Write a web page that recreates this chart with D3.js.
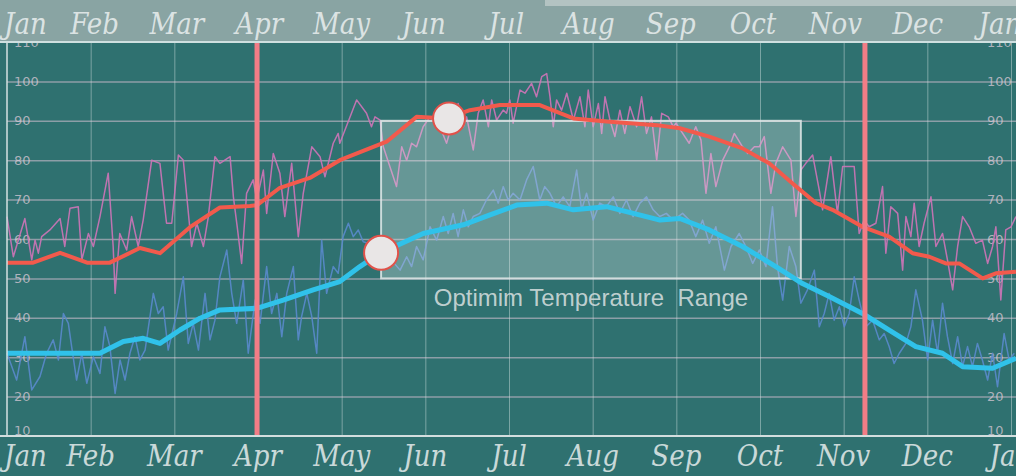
<!DOCTYPE html>
<html>
<head>
<meta charset="utf-8">
<script src="https://cdn.jsdelivr.net/npm/d3@7"></script>
<style>
  html, body { margin: 0; padding: 0; background: #2e6f6e; }
  svg { display: block; }
</style>
</head>
<body>
<svg id="chartSVG" width="1016" height="476"></svg>
<script>
// month labels (top and bottom), value gridlines
var monthNames = ["Jan","Feb","Mar","Apr","May","Jun","Jul","Aug","Sep","Oct","Nov","Dec","Jan"];
var valueTicks = [10,20,30,40,50,60,70,80,90,100,110];

// daily highs (thin pink line)
var dailyHighDay = [0,2.3,6.5,9,10.2,11.4,12.6,15.6,19.3,21,22.9,25.9,27.2,29.6,31.4,33.8,36.8,38.6,39.3,41,43.5,45.3,47.7,49.5,52.6,55.6,58,59.9,62.3,64.1,67.1,69,71.4,73.2,75.6,77.4,81.1,82.3,83.7,85.3,87.1,89.5,90.8,93.2,94.4,96.8,99.2,101,103.5,105.9,107.7,110.8,113.8,115.6,118.6,120.4,
  121,127.1,130.7,132.5,133.8,135.6,136.8,141.6,143.5,145.3,147.1,148.9,151.3,153.8,157.4,159.8,164,165.9,167.1,169.5,171.3,173.1,175,176.2,178,180.4,181.6,182.8,184,186.5,188.3,190.7,192.5,194.4,196.2,197.4,198.6,199.8,201.6,203.5,205.9,208.3,210.1,211.3,213.1,215,216.2,217.4,219.2,221,222.8,224.6,226.5,228.9,230.7,232.5,234.3,236.2,238,240.4,242.2,
  243.2,248,250.4,252.3,254.1,255.9,257.7,260.2,262.6,264.4,267.4,269.3,271.7,273.5,275.3,277.7,279.5,282,285,286.8,288.6,290.4,292.9,295.3,296.5,299.5,301.9,303.8,308,309.8,311.6,313.4,315.9,318.3,319.5,321.3,323.8,325.6,326.8,328.6,329.8,331.6,333.4,335.9,337.7,340.1,341.9,343.8,345.6,347.4,349.8,352.2,354.6,356.5,358.3,359.5,361.3,363.1,365,366.8];
var dailyHigh = [65.7,55.5,65.2,54.7,59.7,56.4,60.6,62.3,65.2,58.1,67.8,68.2,54.7,61.4,58.1,65.7,76.7,58.1,46.2,61.4,57.2,65.7,58.1,64.8,80,79.2,64,64,81.3,80,58.1,64,58.1,65.7,80.9,79.2,80.9,70.7,63.1,53.8,71.6,75,69.9,77.5,66.5,81.7,76.7,65.7,79.2,60.6,71.6,83.4,80.9,75.8,84.3,86.8,
  84.3,95.3,91.9,88.5,91,90.2,83.4,73.3,83.4,80,84.3,83.4,88.5,91,88.5,84.3,94.4,88.5,91,82.6,91.9,95.3,88.5,95.3,90.2,92.7,91.9,95.3,89.4,97.8,97,99.5,96.1,101.2,102,96.1,88.5,95.3,92.7,97,90.2,96.1,88.5,97.8,88.5,94.4,86.8,96.1,90.2,86,92.7,86.8,93.6,88.5,96.1,86.8,91,80,91.9,91,88.5,
  89.4,84.3,88.5,85.1,71.6,81.7,73.3,80,83.4,86.8,83.4,81.7,83.4,83.4,86,71.6,79.2,83.4,80,65.7,77.5,79.2,81.3,72.4,67.4,80.9,66.5,78.4,78.4,61.4,64.8,63.1,64,73.3,56.4,68.2,66.5,52.1,65.7,60.6,69.1,58.1,64,70.7,58.1,61.4,54.7,47.1,58.1,65.7,63.1,58.9,59.7,53.8,58.1,63.1,44.5,62.3,63.1,65.7];

// daily lows (thin blue line)
var dailyLowDay = [0,3.5,6.5,9,12,14.4,16.8,18.7,20.5,22.3,23.5,25.3,27.2,29,31.4,33.8,35.6,37.4,39.3,41.1,42.9,44.7,46.5,48.3,50.2,53.2,55,56.8,58.6,61.7,64.1,65.9,67.7,69.6,72,73.8,75.6,77.4,79.9,81.7,83.5,85.9,87.7,90.2,92,94.4,96.2,98.1,99.9,101.7,104.1,105.9,107.1,109,110.8,112.6,114.4,116.2,118.6,120.4,
  122.2,124.1,125.9,127.7,129.5,135.6,142.9,145.3,147.1,148.9,151.3,153.8,156.2,158.6,160.4,162.2,164,165.9,167.7,169.5,171.9,174.3,176.8,178.6,180.4,182.2,184,186.5,188.9,191.3,193.7,195.5,197.4,199.8,202.2,204.6,207.1,208.9,210.7,213.1,215.5,217.9,220.4,222.8,225.2,227.6,230.1,232.5,234.9,237.3,239.7,242.2,
  245.6,248,250.4,252.9,255.3,257.7,260.8,263.2,266.2,268.6,271.1,273.5,275.9,278.3,280.1,282,284.4,286.8,288.6,291,293.5,295.3,297.1,298.9,300.7,302.6,304.4,306.2,308,309.8,312.2,314.7,317.1,318.9,320.7,322.5,324.4,326.8,328.6,330.4,332.8,334.7,336.5,338.3,340.1,341.9,343.8,345.6,347.4,349.2,351,352.8,354.6,356.5,358.3,360.1,362.5,364.3,366.2];
var dailyLow = [31,24.2,35.2,21.7,25.1,31,34.4,29.3,41.1,38.6,32.7,24.2,31,23.4,30.1,25.9,37.7,32.7,20.8,29.3,24.2,31,35.2,29.3,31.8,46.2,41.1,42.8,31.8,41.1,50.4,33.5,38.6,31.8,46.2,34.4,39.4,50.4,57.2,46.2,38.6,49.6,31,44.5,38.6,53,41.1,46.2,35.2,46.2,53,34.4,40.3,46.2,40.3,31,59.7,46.2,53,51.3,
  60.6,64,60.6,62.3,59.3,58.1,52.1,55.5,53,58.1,54.7,63.1,59.7,65.7,61.4,66.5,60.6,67.4,63.1,65.7,66.5,69.9,72.4,69.1,73.3,69.9,71.6,69.9,75,78.4,69.9,73.3,71.6,68.2,70.7,68.2,77.5,67.4,71.6,64.8,69.1,68.2,70.7,66.5,69.9,65.7,69.1,70.7,67.4,65.7,66.5,64.8,
  66.5,64.8,60.6,64.8,58.9,63.1,52.1,58.1,61.4,58.1,53.8,57.2,53,68.2,53,44.5,58.1,53,43.7,47.1,52.1,37.7,41.1,46.2,39.4,42.8,37.7,41.1,50.4,44.5,37.7,39.4,34.4,36,32.7,28.4,31,33.5,37.7,47.1,39.4,29.3,39.4,31,43.7,35.2,28.4,35.2,27.6,32.7,27.6,33.5,29.3,24.2,31,22.5,36,29.3,31];

// average high (thick red) and average low (thick cyan)
var avgHighDay = [0,9.5,19.3,29.1,37.4,48.3,55.6,66.5,77.4,88.3,90.9,99.2,110.1,121,138,148.9,159.8,168.3,179.2,193.7,205.9,218,236.2,244.6,255.3,267.4,277.1,285.6,294.1,300.1,311,320.7,329.2,335.3,341.3,346.2,354.7,359.5,366.8];
var avgHigh = [54,54,56.5,54,54,57.7,56.4,63,68,68.4,68.6,73,75.5,80,84.7,91,90.6,92.7,94,94,90.6,89.8,88.9,88.1,86,83,79.2,74.1,69.1,67.4,63.1,60.6,56.4,55.5,53.8,53.8,50,51.3,51.7];
var avgLowDay = [0,33.8,42.3,49.5,55.6,62.9,70.2,77.4,90.8,100.4,111.3,121,128.3,135.6,151.3,165.9,175.6,185.3,196.2,205.9,218,227.7,237.4,244.6,255.3,267.4,279.5,289.2,298.9,311,320.7,330.4,340.1,347.4,358.3,366.8];
var avgLow = [31,31,34,34.8,33.5,36.9,39.9,42,42.4,44.5,47.1,49.2,53,56.4,61.4,63.6,66.1,68.6,69.1,67.4,68.2,66.5,64.8,65.2,62.3,58.1,53,48.7,45.4,41.1,36.9,32.7,31,27.6,27.2,29.7];

// optimum band, season markers, highlighted points
var optimumDays = [136, 288.6];
var optimumValues = [50, 90];
var seasonDays = [90.9, 311.9];
var markerDays = [160.7, 136];
var markerValues = [90.6, 56.5];
var markerSeries = ["high", "low"];
var rangeLabel = "Optimim Temperature  Range";

var svg = d3.select("#chartSVG"),
    W = +svg.attr("width"),
    H = +svg.attr("height"),
    plot = {left: 7, right: 1011, top: 42, bottom: 436};

var x = d3.scaleLinear().domain([0, 365]).range([plot.left, plot.right]),
    y = d3.scaleLinear().domain([10, 110]).range([plot.bottom, plot.top]);

var monthTicks = d3.range(13).map(function(i) { return i * 365 / 12; });

// background
svg.append("rect").attr("width", W).attr("height", H).attr("fill", "#2f7170");

svg.append("defs").append("clipPath").attr("id", "plotClip")
  .append("rect")
    .attr("x", 0).attr("y", plot.top)
    .attr("width", W).attr("height", plot.bottom - plot.top);

var g = svg.append("g").attr("clip-path", "url(#plotClip)");

// horizontal grid
g.append("g")
    .attr("class", "grid grid--y")
    .attr("transform", "translate(" + plot.left + ",0)")
    .call(d3.axisLeft(y).tickValues(valueTicks.slice(1, -1)).tickSize(-(W - plot.left)).tickFormat(""))
    .call(function(a) { a.select(".domain").remove(); })
    .selectAll("line")
      .attr("stroke", "#cdbccb")
      .attr("stroke-opacity", 0.6)
      .attr("stroke-width", 1.5);

// vertical month grid
g.append("g")
    .attr("class", "grid grid--x")
    .attr("transform", "translate(0," + plot.bottom + ")")
    .call(d3.axisBottom(x).tickValues(monthTicks.slice(1)).tickSize(-(plot.bottom - plot.top)).tickFormat(""))
    .call(function(a) { a.select(".domain").remove(); })
    .selectAll("line")
      .attr("stroke", "#d8e4e4")
      .attr("stroke-opacity", 0.45)
      .attr("stroke-width", 1);

// value labels, left and right (the 110 / 10 rows are cut by the frame, as in the print)
[14, 987].forEach(function(lx) {
  g.append("g").selectAll("text")
    .data(valueTicks)
    .enter().append("text")
      .attr("x", lx)
      .attr("y", function(d) { return y(d); })
      .attr("dy", function(d) { return d == 10 ? "-0.1em" : "0.36em"; })
      .attr("font-family", "DejaVu Sans")
      .attr("font-size", 13)
      .attr("fill", "#d9c9d6")
      .attr("fill-opacity", 0.75)
      .text(function(d) { return d; });
});

var lineOf = function(days, vals) {
  return d3.line()
    .x(function(d, i) { return x(days[i]); })
    .y(function(d, i) { return y(vals[i]); })(vals);
};

// daily noisy lines
g.append("path")
    .attr("d", lineOf(dailyLowDay, dailyLow))
    .attr("fill", "none")
    .attr("stroke", "#5a8acc")
    .attr("stroke-opacity", 0.9)
    .attr("stroke-width", 1.5)
    .attr("stroke-linejoin", "round");

g.append("path")
    .attr("d", lineOf(dailyHighDay, dailyHigh))
    .attr("fill", "none")
    .attr("stroke", "#cf74b8")
    .attr("stroke-opacity", 0.9)
    .attr("stroke-width", 1.5)
    .attr("stroke-linejoin", "round");

// optimum range box
g.append("rect")
    .attr("x", x(optimumDays[0]))
    .attr("y", y(optimumValues[1]))
    .attr("width", x(optimumDays[1]) - x(optimumDays[0]))
    .attr("height", y(optimumValues[0]) - y(optimumValues[1]))
    .attr("fill", "#e8f0f0")
    .attr("fill-opacity", 0.3)
    .attr("stroke", "#dfe8e8")
    .attr("stroke-opacity", 0.85)
    .attr("stroke-width", 2);

g.append("text")
    .attr("x", (x(optimumDays[0]) + x(optimumDays[1])) / 2)
    .attr("y", y(optimumValues[0]) + 28)
    .attr("text-anchor", "middle")
    .attr("font-family", "Liberation Sans, Arial, sans-serif")
    .attr("font-size", 24)
    .attr("fill", "#d2dcdc")
    .attr("fill-opacity", 0.9)
    .style("white-space", "pre")
    .text(rangeLabel);

// averages
g.append("path")
    .attr("d", lineOf(avgLowDay, avgLow))
    .attr("fill", "none")
    .attr("stroke", "#30c2ea")
    .attr("stroke-width", 5)
    .attr("stroke-linejoin", "round");

g.append("path")
    .attr("d", lineOf(avgHighDay, avgHigh))
    .attr("fill", "none")
    .attr("stroke", "#f25a4c")
    .attr("stroke-width", 4)
    .attr("stroke-linejoin", "round");

// season markers
g.selectAll(".season")
  .data(seasonDays)
  .enter().append("line")
    .attr("class", "season")
    .attr("x1", function(d) { return x(d); })
    .attr("x2", function(d) { return x(d); })
    .attr("y1", plot.top)
    .attr("y2", plot.bottom)
    .attr("stroke", "#f27d86")
    .attr("stroke-width", 5);

// highlighted points
g.selectAll(".marker")
  .data(markerDays)
  .enter().append("circle")
    .attr("class", "marker")
    .attr("cx", function(d) { return x(d); })
    .attr("cy", function(d, i) { return y(markerValues[i]); })
    .attr("r", function(d, i) { return markerSeries[i] == "high" ? 16 : 17; })
    .attr("fill", "#e9e6e6")
    .attr("stroke", "#e0524a")
    .attr("stroke-width", 2);

// plot frame
svg.append("line").attr("x1", plot.left).attr("x2", plot.left).attr("y1", plot.top).attr("y2", plot.bottom)
  .attr("stroke", "#d6e2e2").attr("stroke-width", 1.5);
svg.append("line").attr("x1", 0).attr("x2", W).attr("y1", plot.bottom).attr("y2", plot.bottom)
  .attr("stroke", "#d3dede").attr("stroke-width", 2);

// header band
svg.append("rect").attr("x", 0).attr("y", 0).attr("width", W).attr("height", plot.top)
  .attr("fill", "#89a4a3");
svg.append("rect").attr("x", 545).attr("y", 0).attr("width", W - 545).attr("height", 6)
  .attr("fill", "#b3c3c2");
svg.append("line").attr("x1", 0).attr("x2", W).attr("y1", plot.top).attr("y2", plot.top)
  .attr("stroke", "#cfe0e0").attr("stroke-width", 2);

// month labels; the top row drifts a little left across the page
var topShift = function(i) { return 4 - (i - 1) * 15 / 11; };
var monthFont = function(sel) {
  sel.attr("font-family", "DejaVu Serif Condensed, DejaVu Serif, serif")
     .attr("font-style", "italic")
     .attr("font-size", 29)
     .attr("fill", "#eef2f2")
     .attr("fill-opacity", 0.82);
};

svg.append("g").selectAll("text")
  .data(monthNames)
  .enter().append("text")
    .attr("x", function(d, i) { return i == 0 ? 4 : x(monthTicks[i]) + topShift(i); })
    .attr("y", 34)
    .attr("text-anchor", function(d, i) { return i == 0 ? "start" : "middle"; })
    .call(monthFont)
    .text(function(d) { return d; });

svg.append("g").selectAll("text")
  .data(monthNames)
  .enter().append("text")
    .attr("x", function(d, i) { return i == 0 ? 4 : x(monthTicks[i]); })
    .attr("y", 466)
    .attr("text-anchor", function(d, i) { return i == 0 ? "start" : "middle"; })
    .call(monthFont)
    .text(function(d) { return d; });
</script>
</body>
</html>
